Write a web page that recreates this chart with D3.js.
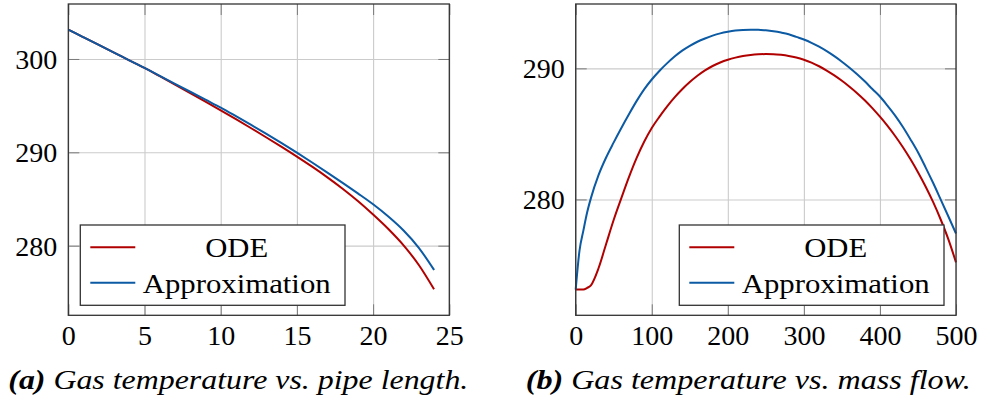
<!DOCTYPE html>
<html>
<head>
<meta charset="utf-8">
<script src="https://cdn.jsdelivr.net/npm/d3@7"></script>
<style>
  body { margin: 0; background: #fff; }
</style>
</head>
<body>
<svg id="fig" width="984" height="403"></svg>
<script>
var FONT = "'Liberation Serif', 'DejaVu Serif', serif";

// --- data (a): gas temperature vs pipe length ---
var lenX = [0, 1, 2, 3, 4, 5, 6, 7, 8, 9, 10, 11, 12, 13, 14, 15, 16, 17, 18, 19, 20, 21, 22, 23, 24];
var lenODE = [303.14, 302.32, 301.5, 300.68, 299.86, 299.04, 298.16, 297.26, 296.35, 295.43, 294.5,
  293.55, 292.58, 291.59, 290.58, 289.54, 288.46, 287.32, 286.1, 284.78, 283.33, 281.78, 280.03, 277.93, 275.33];
var lenApprox = [303.14, 302.32, 301.5, 300.68, 299.86, 299.04, 298.19, 297.34, 296.49, 295.64, 294.79,
  293.87, 292.93, 291.97, 290.98, 289.96, 288.91, 287.83, 286.73, 285.6, 284.43, 283.12, 281.62, 279.77, 277.4];

// --- data (b): gas temperature vs mass flow ---
var flowX = [0, 5, 10, 15, 20, 30, 40, 50, 60, 70, 80, 90, 100, 110, 120, 130, 140, 150, 160, 170, 180, 190, 200,
  210, 220, 230, 240, 250, 260, 270, 280, 290, 300, 310, 320, 330, 340, 350, 360, 370, 380, 390, 400,
  410, 420, 430, 440, 450, 460, 470, 480, 490, 500];
var flowODE = [273.13, 273.13, 273.13, 273.25, 273.45, 274.75, 276.6, 278.45, 280.1, 281.7, 283.15, 284.4, 285.45,
  286.3, 287.08, 287.78, 288.4, 288.95, 289.43, 289.84, 290.18, 290.45, 290.66,
  290.82, 290.94, 291.02, 291.07, 291.09, 291.08, 291.03, 290.95, 290.83, 290.66,
  290.44, 290.16, 289.83, 289.46, 289.05, 288.6, 288.11, 287.57, 286.97, 286.31,
  285.61, 284.84, 284.0, 283.08, 282.08, 280.99, 279.79, 278.45, 276.95, 275.2];
var flowApprox = [273.13, 276.1, 277.6, 279.0, 280.1, 281.85, 283.2, 284.35, 285.45, 286.5, 287.5, 288.4, 289.15,
  289.8, 290.38, 290.9, 291.35, 291.72, 292.03, 292.28, 292.5, 292.67, 292.79,
  292.88, 292.93, 292.95, 292.94, 292.9, 292.83, 292.73, 292.6, 292.4, 292.2,
  291.95, 291.65, 291.31, 290.93, 290.51, 290.05, 289.55, 289.01, 288.42, 287.85,
  287.15, 286.4, 285.55, 284.6, 283.6, 282.45, 281.25, 279.98, 278.7, 277.4];

var seriesNames = ["ODE", "Approximation"];
var seriesColors = ["#b10000", "#0b5aa3"];

var svg = d3.select("#fig");

function panel(opt) {
  var x = d3.scaleLinear().domain(opt.xDomain).range([opt.left, opt.right]);
  var y = d3.scaleLinear().domain(opt.yDomain).range([opt.bottom, opt.top]);
  var w = opt.right - opt.left, h = opt.bottom - opt.top;
  var g = svg.append("g");

  // grid
  g.append("g")
    .attr("transform", "translate(0," + opt.bottom + ")")
    .call(d3.axisBottom(x).tickValues(opt.xTicks).tickSize(-h).tickFormat(""))
    .call(s => s.select(".domain").remove())
    .selectAll("line").attr("stroke", "#cbcbcb").attr("stroke-width", 1.1);
  g.append("g")
    .attr("transform", "translate(" + opt.left + ",0)")
    .call(d3.axisLeft(y).tickValues(opt.yTicks).tickSize(-w).tickFormat(""))
    .call(s => s.select(".domain").remove())
    .selectAll("line").attr("stroke", "#cbcbcb").attr("stroke-width", 1.1);

  // inward tick marks on all four sides
  var tk = 11;
  [[d3.axisBottom(x).tickValues(opt.xTicks), "translate(0," + opt.bottom + ")"],
   [d3.axisTop(x).tickValues(opt.xTicks), "translate(0," + opt.top + ")"],
   [d3.axisLeft(y).tickValues(opt.yTicks), "translate(" + opt.left + ",0)"],
   [d3.axisRight(y).tickValues(opt.yTicks), "translate(" + opt.right + ",0)"]
  ].forEach(function(a) {
    g.append("g").attr("transform", a[1])
      .call(a[0].tickSize(-tk).tickFormat(""))
      .call(s => s.select(".domain").remove())
      .selectAll("line").attr("stroke", "#7a7a7a").attr("stroke-width", 1);
  });

  // tick labels
  var xa = g.append("g")
    .attr("transform", "translate(0," + opt.bottom + ")")
    .call(d3.axisBottom(x).tickValues(opt.xTicks).tickSize(0).tickPadding(0))
    .attr("font-family", FONT).attr("font-size", 28);
  xa.select(".domain").remove();
  xa.selectAll("text").attr("dy", null).attr("y", 30)
    .attr("font-family", FONT).attr("font-size", 28).attr("fill", "#000");

  var ya = g.append("g")
    .attr("transform", "translate(" + opt.left + ",0)")
    .call(d3.axisLeft(y).tickValues(opt.yTicks).tickSize(0).tickPadding(0))
    .attr("font-family", FONT).attr("font-size", 28);
  ya.select(".domain").remove();
  ya.selectAll("text").attr("x", -11).attr("dy", "0.34em")
    .attr("font-family", FONT).attr("font-size", 28).attr("fill", "#000");

  // curves
  var line = d3.line()
    .curve(d3.curveMonotoneX)
    .x(function(d) { return x(d[0]); })
    .y(function(d) { return y(d[1]); });
  opt.series.forEach(function(vals, i) {
    g.append("path")
      .datum(opt.xs.map(function(v, j) { return [v, vals[j]]; }))
      .attr("fill", "none")
      .attr("stroke", seriesColors[i])
      .attr("stroke-width", 2)
      .attr("stroke-linejoin", "round")
      .attr("d", line);
  });

  // frame
  g.append("rect")
    .attr("x", opt.left).attr("y", opt.top)
    .attr("width", w).attr("height", h)
    .attr("fill", "none").attr("stroke", "#333").attr("stroke-width", 1.3);

  // legend
  var lg = g.append("g").attr("transform", "translate(" + opt.legX + "," + 225 + ")");
  lg.append("rect").attr("width", 264.7).attr("height", 80.3)
    .attr("fill", "#fff").attr("stroke", "#333").attr("stroke-width", 1.3);
  seriesNames.forEach(function(name, i) {
    var yy = 22.3 + i * 35.4;
    lg.append("line").attr("x1", 10).attr("x2", 55).attr("y1", yy).attr("y2", yy)
      .attr("stroke", seriesColors[i]).attr("stroke-width", 2);
    lg.append("text").attr("x", 156.4).attr("y", yy + 10)
      .attr("text-anchor", "middle")
      .attr("font-family", FONT).attr("font-size", 28)
      .attr("textLength", name === "ODE" ? 63 : 188)
      .attr("lengthAdjust", "spacingAndGlyphs")
      .text(name);
  });

  // caption
  var cap = svg.append("text").attr("x", opt.capX).attr("y", 389)
    .attr("font-family", FONT).attr("font-size", 27).attr("font-style", "italic")
    .attr("textLength", opt.capW).attr("lengthAdjust", "spacingAndGlyphs");
  cap.append("tspan").attr("font-weight", "bold").text(opt.capLabel);
  cap.append("tspan").text(" " + opt.capText);
}

panel({
  left: 68.3, right: 449.3, top: 4, bottom: 315.3,
  xDomain: [0, 25], yDomain: [272.54, 305.89],
  xTicks: [0, 5, 10, 15, 20, 25], yTicks: [280, 290, 300],
  xs: lenX, series: [lenODE, lenApprox],
  legX: 80.3,
  capX: 8.3, capW: 460, capLabel: "(a)", capText: "Gas temperature vs. pipe length."
});

panel({
  left: 575.7, right: 956, top: 4, bottom: 315.3,
  xDomain: [0, 500], yDomain: [271.16, 294.91],
  xTicks: [0, 100, 200, 300, 400, 500], yTicks: [280, 290],
  xs: flowX, series: [flowODE, flowApprox],
  legX: 679.3,
  capX: 525.7, capW: 445, capLabel: "(b)", capText: "Gas temperature vs. mass flow."
});
</script>
</body>
</html>
